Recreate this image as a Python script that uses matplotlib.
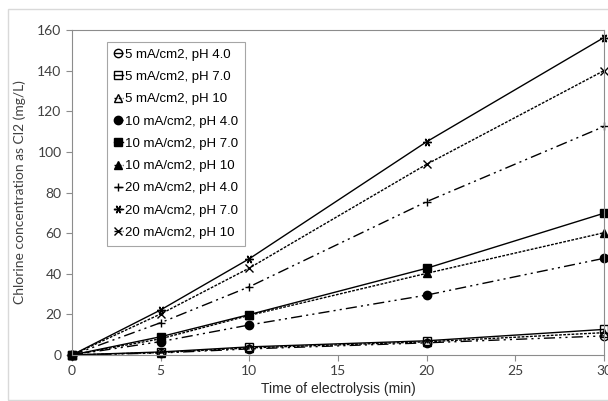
import matplotlib.pyplot as plt
from matplotlib.patches import Rectangle

# time of electrolysis (min)
time_min = [0, 5, 10, 20, 30]

# chlorine concentration (mg/L)
cd5_ph4 = [0, 1.0, 3.0, 6.0, 9.4]
cd5_ph7 = [0, 1.5, 4.0, 7.0, 12.6]
cd5_ph10 = [0, 1.2, 3.5, 6.5, 11.0]
cd10_ph4 = [0, 6.6, 14.8, 29.5, 47.6]
cd10_ph7 = [0, 9.0, 19.9, 42.7, 69.8]
cd10_ph10 = [0, 8.0, 19.5, 40.2, 60.2]
cd20_ph4 = [0, 15.9, 33.6, 75.5, 112.5]
cd20_ph7 = [0, 22.2, 47.4, 105.0, 156.3]
cd20_ph10 = [0, 20.2, 42.8, 93.9, 140.0]

labels = ["5 mA/cm2, pH 4.0", "5 mA/cm2, pH 7.0", "5 mA/cm2, pH 10",
          "10 mA/cm2, pH 4.0", "10 mA/cm2, pH 7.0", "10 mA/cm2, pH 10",
          "20 mA/cm2, pH 4.0", "20 mA/cm2, pH 7.0", "20 mA/cm2, pH 10"]
series = [cd5_ph4, cd5_ph7, cd5_ph10, cd10_ph4, cd10_ph7, cd10_ph10,
          cd20_ph4, cd20_ph7, cd20_ph10]

ls_ph4 = (0, (8, 3, 1.5, 3, 1.5, 3))
ls_ph7 = "-"
ls_ph10 = (0, (2, 1))
styles = [ls_ph4, ls_ph7, ls_ph10] * 3
markers = ["o", "s", "^", "o", "s", "^", "+", (6, 2, 30), "x"]
faces = ["none"] * 3 + ["black"] * 3 + ["black"] * 3

fig = plt.figure(figsize=(6.08, 4.01), dpi=100)
fig.patches.append(Rectangle((8 / 608, 0.002), 0.99, 1 - 9 / 401 - 0.002,
                             transform=fig.transFigure, fill=False,
                             edgecolor="#d9d9d9", linewidth=1))
ax = fig.add_axes([72 / 608, 46 / 401, 532 / 608, 325 / 401])

for i in range(len(series)):
    ax.plot(time_min, series[i], color="black", linewidth=1,
            linestyle=styles[i], marker=markers[i], markersize=6,
            markerfacecolor=faces[i], markeredgecolor="black",
            markeredgewidth=1, label=labels[i], clip_on=False)

ax.set_xlim(0, 30)
ax.set_ylim(0, 160)
ax.set_xticks([0, 5, 10, 15, 20, 25, 30])
ax.set_yticks(range(0, 161, 20))
for s in ax.spines.values():
    s.set_color("#8c8c8c")
ax.tick_params(colors="#8c8c8c", labelcolor="#404040", length=4, labelsize=10)
for t in ax.get_xticklabels() + ax.get_yticklabels():
    t.set_family("Lato")

ax.set_xlabel("Time of electrolysis (min)", family="Liberation Sans",
              fontsize=10, color="#262626", labelpad=3)
ax.set_ylabel("Chlorine concentration as Cl2 (mg/L)", family="Lato",
              fontsize=10, color="#404040", labelpad=8)

leg = ax.legend(loc="upper left", bbox_to_anchor=(35 / 532, 1 - 12 / 325),
                borderaxespad=0,
                prop={"family": "Liberation Sans", "size": 9.5},
                handlelength=0.7, handletextpad=0.2, labelspacing=0.76,
                borderpad=0.5, fancybox=False, framealpha=1)
leg.get_frame().set_edgecolor("#a6a6a6")
leg.get_frame().set_linewidth(0.8)

plt.savefig("out.png", dpi=100)
